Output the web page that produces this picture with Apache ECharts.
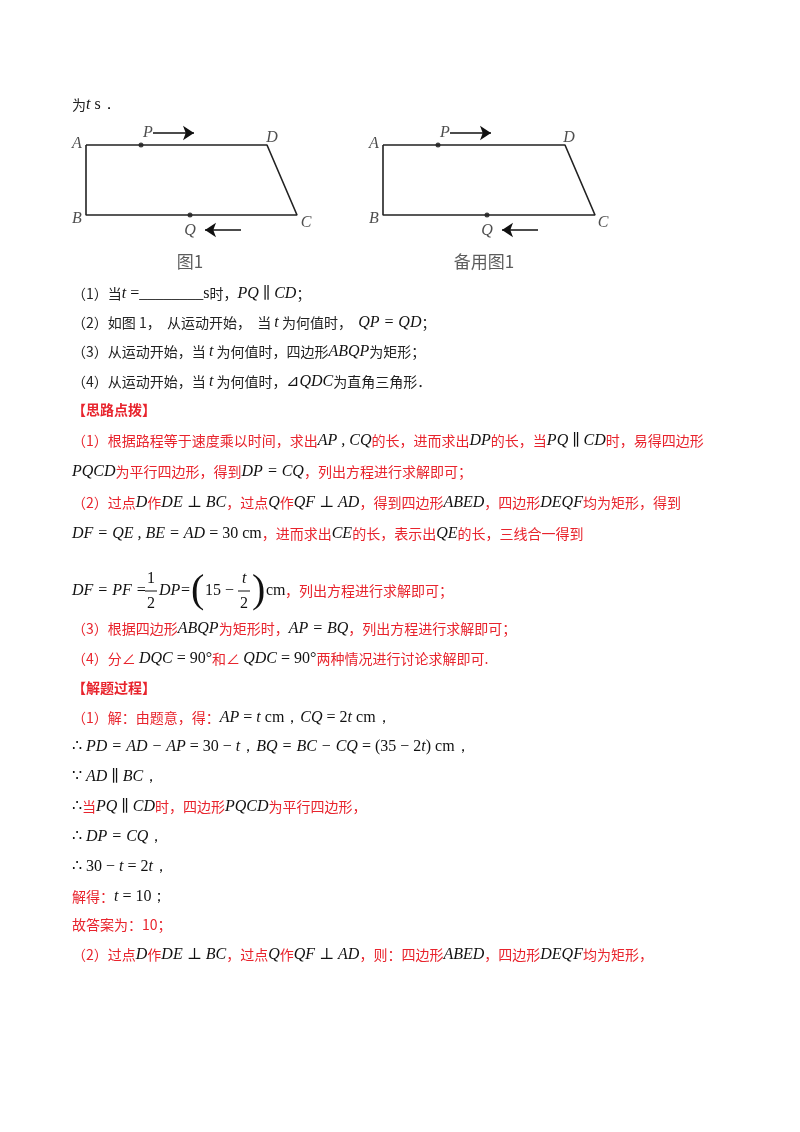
<!DOCTYPE html>
<html><head><meta charset="utf-8">
<script src="https://cdn.jsdelivr.net/npm/echarts@6/dist/echarts.min.js"></script>
<style>html,body{margin:0;padding:0;background:#fff}#c{width:800px;height:1132px}</style>
</head><body><div id="c"></div>
<script>
// Figure geometry (page coordinates, mapped through value axes)
const shape1 = [[86,145],[267,145],[297,215],[86,215],[86,145]];
const shape2 = [[383,145],[565,145],[595,215],[383,215],[383,145]];
const movingPoints = [[141,145],[190,215],[438,145],[487,215]];
const arrows = [
  [[153,133],[194,133]], [[241,230],[205,230]],
  [[450,133],[491,133]], [[538,230],[502,230]]
];
const vertexLabels = [
  ['A',77,144],['D',272,138],['B',77,219],['C',306,223],['P',148,133],['Q',190,231],
  ['A',374,144],['D',569,138],['B',374,219],['C',603,223],['P',445,133],['Q',487,231]
];
const captions = [['图1',190,262],['备用图1',484,262]];

const R = '#e8242d';
const lines = [
  [107, '{c|为}{m|t}{n| s．}'],
  [296, '{c|（1）当}{m|t}{n| =________s}{c|时，}{m|PQ ∥ CD}{c|；}'],
  [325, '{c|（2）如图 1，  从运动开始，  当 }{m|t}{c| 为何值时，  }{m|QP = QD}{c|；}'],
  [354, '{c|（3）从运动开始，当 }{m|t}{c| 为何值时，四边形}{m|ABQP}{c|为矩形；}'],
  [384, '{c|（4）从运动开始，当 }{m|t}{c| 为何值时，}{n|⊿}{m|QDC}{c|为直角三角形．}'],
  [413, '{b|【思路点拨】}'],
  [443, '{r|（1）根据路程等于速度乘以时间，求出}{m|AP , CQ}{r|的长，进而求出}{m|DP}{r|的长，当}{m|PQ ∥ CD}{r|时，易得四边形}'],
  [474, '{m|PQCD}{r|为平行四边形，得到}{m|DP = CQ}{r|，列出方程进行求解即可；}'],
  [505, '{r|（2）过点}{m|D}{r|作}{m|DE ⊥ BC}{r|，过点}{m|Q}{r|作}{m|QF ⊥ AD}{r|，得到四边形}{m|ABED}{r|，四边形}{m|DEQF}{r|均为矩形，得到}'],
  [536, '{m|DF = QE , BE = AD}{n| = 30 cm}{r|，进而求出}{m|CE}{r|的长，表示出}{m|QE}{r|的长，三线合一得到}'],
  [631, '{r|（3）根据四边形}{m|ABQP}{r|为矩形时，}{m|AP = BQ}{r|，列出方程进行求解即可；}'],
  [661, '{r|（4）分∠ }{m|DQC}{n| = 90°}{r|和∠ }{m|QDC}{n| = 90°}{r|两种情况进行讨论求解即可.}'],
  [691, '{b|【解题过程】}'],
  [720, '{r|（1）解：由题意，得：}{m|AP}{n| = }{m|t}{n| cm，}{m|CQ}{n| = 2}{m|t}{n| cm，}'],
  [749, '{n|∴ }{m|PD = AD − AP}{n| = 30 − }{m|t}{n|，}{m|BQ = BC − CQ}{n| = (35 − 2}{m|t}{n|) cm，}'],
  [779, '{n|∵ }{m|AD ∥ BC}{n|，}'],
  [809, '{n|∴}{r|当}{m|PQ ∥ CD}{r|时，四边形}{m|PQCD}{r|为平行四边形，}'],
  [839, '{n|∴ }{m|DP = CQ}{n|，}'],
  [869, '{n|∴ 30 − }{m|t}{n| = 2}{m|t}{n|，}'],
  [899, '{r|解得：}{m|t}{n| = 10；}'],
  [928, '{r|故答案为：10；}'],
  [957, '{r|（2）过点}{m|D}{r|作}{m|DE ⊥ BC}{r|，过点}{m|Q}{r|作}{m|QF ⊥ AD}{r|，则：四边形}{m|ABED}{r|，四边形}{m|DEQF}{r|均为矩形，}']
];
const CJK = '"Noto Sans CJK SC", sans-serif';
const SER = '"Liberation Serif", "DejaVu Serif", serif';
const rich = {
  c:{fontFamily:CJK,fontSize:14,fill:'#222'},
  r:{fontFamily:CJK,fontSize:14,fill:R},
  b:{fontFamily:CJK,fontSize:14,fill:R,fontWeight:'bold'},
  m:{fontFamily:SER,fontSize:16,fontStyle:'italic',fill:'#111'},
  n:{fontFamily:SER,fontSize:16,fill:'#111'}
};
const graphics = [];
lines.forEach(([y,t])=>graphics.push({type:'text',left:72,top:y-10,style:{text:t,rich:rich}}));
// fraction line
function txt(x,y,t,o){graphics.push({type:'text',x:x,y:y,style:Object.assign({text:t,fontFamily:SER,fontSize:16,fill:'#111',textVerticalAlign:'middle'},o||{})});}
txt(72,591,'DF = PF =',{fontStyle:'italic'});
txt(147,579,'1'); txt(147,604,'2');
graphics.push({type:'line',shape:{x1:145,y1:591,x2:157,y2:591},style:{stroke:'#111',lineWidth:1}});
txt(159,591,'DP',{fontStyle:'italic'}); txt(181,591,'=');
txt(191,591,'(',{fontSize:40});
txt(205,591,'15 −');
txt(242,579,'t',{fontStyle:'italic'}); txt(240,604,'2');
graphics.push({type:'line',shape:{x1:238,y1:591,x2:250,y2:591},style:{stroke:'#111',lineWidth:1}});
txt(252,591,')',{fontSize:40});
txt(266,591,'cm');
graphics.push({type:'text',x:285,y:591,style:{text:'，列出方程进行求解即可；',fontFamily:CJK,fontSize:14,fill:R,textVerticalAlign:'middle'}});

const chart = echarts.init(document.getElementById('c'));
const series = [
  {type:'line',data:shape1,symbol:'none',lineStyle:{color:'#222',width:1.6},animation:false},
  {type:'line',data:shape2,symbol:'none',lineStyle:{color:'#222',width:1.6},animation:false},
  {type:'scatter',data:movingPoints,symbolSize:5,itemStyle:{color:'#111'},animation:false},
  {type:'lines',coordinateSystem:'cartesian2d',data:arrows.map(a=>({coords:a})),symbol:['none','arrow'],symbolSize:11,lineStyle:{color:'#111',width:1.6,opacity:1},animation:false},
  {type:'scatter',data:vertexLabels.map(v=>[v[1],v[2],v[0]]),symbolSize:0,
   label:{show:true,position:'inside',formatter:p=>p.data[2],fontFamily:SER,fontStyle:'italic',fontSize:16,color:'#222'},animation:false},
  {type:'scatter',data:captions.map(v=>[v[1],v[2],v[0]]),symbolSize:0,
   label:{show:true,position:'inside',formatter:p=>p.data[2],fontFamily:CJK,fontSize:17,color:'#333'},animation:false}
];
chart.setOption({
  backgroundColor:'#fff',animation:false,
  grid:{left:0,right:0,top:0,bottom:0},
  xAxis:{type:'value',min:0,max:800,show:false},
  yAxis:{type:'value',min:0,max:1132,inverse:true,show:false},
  series:series,
  graphic:graphics
});
</script></body></html>
